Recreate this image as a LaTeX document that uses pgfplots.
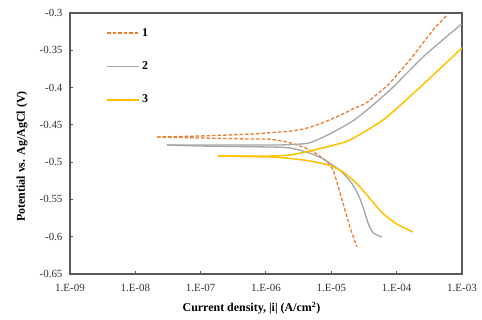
\documentclass[border=0pt]{standalone}
\usepackage{fontspec}
\setmainfont{Liberation Serif}
\usepackage{pgfplots}
\pgfplotsset{compat=1.18}
\definecolor{c1}{HTML}{ED7D31}
\definecolor{c2}{HTML}{A5A5A5}
\definecolor{c3}{HTML}{FFC000}
\definecolor{axc}{HTML}{595959}
\begin{document}
\begin{tikzpicture}
\begin{axis}[
 at={(0,0)}, anchor=south west,
 scale only axis, width=392bp, height=261bp,
 xmode=log, xmin=1e-9, xmax=1e-3, ymin=-0.65, ymax=-0.3,
 xtick={1e-9,1e-8,1e-7,1e-6,1e-5,1e-4,1e-3},
 xticklabels={1.E-09,1.E-08,1.E-07,1.E-06,1.E-05,1.E-04,1.E-03},
 ytick={-0.65,-0.6,-0.55,-0.5,-0.45,-0.4,-0.35,-0.3},
 yticklabels={-0.65,-0.6,-0.55,-0.5,-0.45,-0.4,-0.35,-0.3},
 xminorticks=false,
 tick align=inside, xtick pos=lower, ytick pos=left,
 major tick length=3bp,
 axis line style={draw=axc, line width=1.2bp},
 tick style={draw=axc, line width=1bp},
 ticklabel style={font=\fontsize{11}{13}\selectfont, text=black!80},
 xticklabel style={yshift=-7bp},
 yticklabel style={xshift=-4bp},
 xlabel={Current density, |i| (A/cm\textsuperscript{2})},
 ylabel={Potential vs. Ag/AgCl (V)},
 xlabel style={at={(axis description cs:0.463,-0.131)}, anchor=center, font=\fontsize{12}{14}\selectfont\bfseries},
 ylabel style={at={(axis description cs:-0.122,0.45)}, anchor=center, font=\fontsize{12}{14}\selectfont\bfseries},
 legend style={draw=none, fill=none, at={(axis description cs:0.093,0.95)}, anchor=north west,
   font=\fontsize{12}{14}\selectfont\bfseries, row sep=20bp, inner sep=0pt, nodes={inner sep=2bp}},
 legend image code/.code={\draw[#1] (-3bp,0bp) -- (29bp,0bp);},
 legend cell align=left,
]
% curve 1
\addplot[c1, line width=1.3bp, dash pattern=on 3.5bp off 2bp, smooth, tension=0.4] coordinates {
(2.15e-8,-0.4663) (1e-7,-0.4676) (5.69e-7,-0.4690) (1.15e-6,-0.4692) (2.33e-6,-0.4740)
(4.72e-6,-0.4837) (8.0e-6,-0.4971) (1.06e-5,-0.5105) (1.36e-5,-0.5414) (1.93e-5,-0.5870)
(2.47e-5,-0.6138)};
\addlegendentry{1}
\addplot[c1, line width=1.3bp, dash pattern=on 3.5bp off 2bp, smooth, tension=0.4, forget plot] coordinates {
(2.15e-8,-0.4663) (1e-7,-0.4649) (5.69e-7,-0.4625) (1.15e-6,-0.4605) (2.33e-6,-0.4585)
(3.5e-6,-0.4560) (5.0e-6,-0.4525) (8.0e-6,-0.4460) (1.5e-5,-0.4355) (2.2e-5,-0.4280)
(2.8e-5,-0.4245) (3.5e-5,-0.4200) (5.0e-5,-0.4090) (7.9e-5,-0.3939) (1.78e-4,-0.3576)
(3.6e-4,-0.3228) (5.91e-4,-0.3027)};
% curve 2
\addplot[c2, line width=1.3bp, smooth, tension=0.4] coordinates {
(3.05e-8,-0.4770) (1e-7,-0.4784) (1.15e-6,-0.4797) (2.33e-6,-0.4810) (4.72e-6,-0.4880)
(8.0e-6,-0.4971) (1.4e-5,-0.5120) (2.0e-5,-0.5270) (2.6e-5,-0.5440) (3.1e-5,-0.5620)
(3.7e-5,-0.5830) (4.4e-5,-0.5950) (5.97e-5,-0.6004)};
\addlegendentry{2}
\addplot[c2, line width=1.3bp, smooth, tension=0.4, forget plot] coordinates {
(3.05e-8,-0.4770) (1.15e-6,-0.4770) (2.33e-6,-0.4765) (4.72e-6,-0.4740) (1.06e-5,-0.4600)
(2.47e-5,-0.4408) (7.91e-5,-0.4033) (2.53e-4,-0.3590) (8.69e-4,-0.3188) (1e-3,-0.3147)};
% curve 3
\addplot[c3, line width=1.5bp, smooth, tension=0.4] coordinates {
(1.84e-7,-0.4918) (1.15e-6,-0.4931) (2.33e-6,-0.4950) (4.72e-6,-0.4985) (9.55e-6,-0.5045)
(1.5e-5,-0.5130) (2.47e-5,-0.5290) (3.91e-5,-0.5490) (6.18e-5,-0.5690) (1.01e-4,-0.5830)
(1.78e-4,-0.5937)};
\addlegendentry{3}
\addplot[c3, line width=1.5bp, smooth, tension=0.4, forget plot] coordinates {
(1.84e-7,-0.4918) (1.15e-6,-0.4918) (2.33e-6,-0.4904) (4.72e-6,-0.4850) (1.0e-5,-0.4780)
(1.93e-5,-0.4703) (6.18e-5,-0.4435) (2.05e-4,-0.4033) (9.3e-4,-0.3496) (1e-3,-0.3469)};
\end{axis}
\pgfresetboundingbox
\path[use as bounding box] (-70bp,-46bp) rectangle (412bp,274bp);
\end{tikzpicture}
\end{document}
